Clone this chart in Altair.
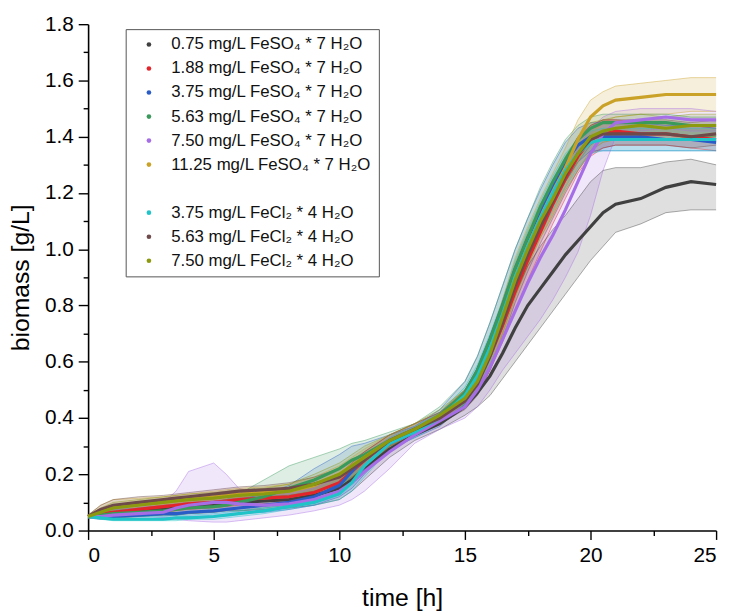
import altair as alt
import pandas as pd

# time points (h)
T = [0, 0.5, 1, 2, 3, 3.5, 4, 5, 5.5, 6, 7, 8, 9, 10, 10.5, 11, 12, 13, 14, 15,
     15.5, 16, 16.5, 17, 17.5, 18, 18.5, 19, 19.5, 20, 20.5, 21, 22, 23, 24, 25]

labels = [
    "0.75 mg/L FeSO₄ * 7 H₂O",
    "1.88 mg/L FeSO₄ * 7 H₂O",
    "3.75 mg/L FeSO₄ * 7 H₂O",
    "5.63 mg/L FeSO₄ * 7 H₂O",
    "7.50 mg/L FeSO₄ * 7 H₂O",
    "11.25 mg/L FeSO₄ * 7 H₂O",
    " ",
    "3.75 mg/L FeCl₂ * 4 H₂O",
    "5.63 mg/L FeCl₂ * 4 H₂O",
    "7.50 mg/L FeCl₂ * 4 H₂O",
]
colors = ["#404040", "#e3242b", "#2a5cc8", "#3a9a5c", "#a66ee6", "#c9a227",
          "transparent", "#20c4c8", "#6e4a4a", "#8c9a10"]

gray_mean = [0.05,0.055,0.06,0.07,0.075,0.08,0.085,0.09,0.095,0.10,0.105,0.11,0.125,0.15,0.18,0.22,0.29,0.34,0.38,0.44,0.49,0.55,0.63,0.72,0.80,0.86,0.92,0.98,1.03,1.08,1.13,1.16,1.18,1.22,1.24,1.23]
gray_lo = [0.045,0.045,0.045,0.05,0.055,0.055,0.06,0.065,0.07,0.07,0.075,0.08,0.09,0.11,0.14,0.18,0.26,0.32,0.36,0.41,0.44,0.48,0.54,0.60,0.66,0.72,0.78,0.84,0.90,0.96,1.01,1.06,1.09,1.13,1.14,1.14]
gray_hi = [0.055,0.07,0.08,0.09,0.10,0.105,0.11,0.115,0.12,0.125,0.13,0.14,0.16,0.19,0.22,0.26,0.32,0.36,0.41,0.48,0.54,0.62,0.72,0.84,0.94,1.01,1.07,1.12,1.18,1.24,1.28,1.29,1.29,1.31,1.32,1.30]

red_mean = [0.05,0.06,0.065,0.075,0.085,0.09,0.095,0.10,0.105,0.11,0.115,0.12,0.135,0.17,0.21,0.25,0.32,0.36,0.40,0.47,0.53,0.62,0.73,0.85,0.96,1.06,1.16,1.25,1.33,1.39,1.41,1.42,1.41,1.41,1.40,1.39]
red_lo = [0.045,0.05,0.05,0.06,0.065,0.07,0.075,0.08,0.085,0.09,0.095,0.10,0.11,0.14,0.18,0.22,0.30,0.34,0.38,0.44,0.49,0.57,0.67,0.78,0.89,0.99,1.09,1.18,1.27,1.33,1.36,1.37,1.37,1.37,1.36,1.35]
red_hi = [0.055,0.07,0.08,0.09,0.10,0.11,0.115,0.12,0.125,0.13,0.135,0.14,0.16,0.20,0.24,0.28,0.34,0.38,0.42,0.50,0.57,0.67,0.79,0.92,1.03,1.13,1.23,1.32,1.39,1.44,1.46,1.46,1.45,1.45,1.44,1.43]

blue_mean = [0.05,0.05,0.05,0.055,0.06,0.06,0.065,0.07,0.075,0.08,0.09,0.10,0.12,0.16,0.21,0.26,0.31,0.35,0.40,0.49,0.57,0.68,0.80,0.93,1.04,1.14,1.23,1.31,1.37,1.40,1.40,1.40,1.40,1.39,1.39,1.38]
blue_lo = [0.045,0.04,0.04,0.04,0.045,0.045,0.05,0.05,0.055,0.06,0.065,0.075,0.09,0.12,0.15,0.20,0.29,0.33,0.37,0.45,0.52,0.62,0.73,0.86,0.97,1.07,1.16,1.24,1.31,1.35,1.35,1.35,1.35,1.35,1.35,1.35]
blue_hi = [0.055,0.06,0.065,0.07,0.075,0.08,0.085,0.09,0.10,0.11,0.13,0.16,0.22,0.27,0.30,0.31,0.34,0.37,0.43,0.53,0.62,0.74,0.87,1.00,1.11,1.21,1.30,1.38,1.43,1.45,1.45,1.45,1.45,1.44,1.44,1.43]

green_mean = [0.05,0.055,0.06,0.065,0.07,0.075,0.08,0.085,0.09,0.10,0.12,0.15,0.18,0.22,0.25,0.27,0.32,0.36,0.41,0.49,0.57,0.68,0.80,0.93,1.04,1.15,1.24,1.32,1.39,1.43,1.45,1.45,1.45,1.45,1.44,1.44]
green_lo = [0.045,0.045,0.045,0.05,0.055,0.055,0.06,0.065,0.07,0.07,0.08,0.09,0.11,0.14,0.18,0.22,0.29,0.34,0.38,0.45,0.52,0.62,0.73,0.86,0.97,1.07,1.16,1.24,1.31,1.37,1.40,1.41,1.41,1.41,1.40,1.40]
green_hi = [0.055,0.065,0.075,0.08,0.085,0.09,0.095,0.10,0.11,0.13,0.18,0.23,0.26,0.29,0.31,0.32,0.35,0.38,0.44,0.53,0.62,0.74,0.87,1.00,1.11,1.22,1.31,1.39,1.44,1.47,1.48,1.48,1.48,1.48,1.47,1.47]

purple_mean = [0.05,0.05,0.055,0.06,0.065,0.08,0.09,0.10,0.10,0.095,0.09,0.095,0.11,0.14,0.17,0.21,0.28,0.34,0.39,0.44,0.50,0.58,0.68,0.78,0.88,0.97,1.05,1.14,1.24,1.34,1.41,1.45,1.46,1.47,1.46,1.46]
purple_lo = [0.045,0.04,0.04,0.04,0.045,0.04,0.035,0.03,0.03,0.035,0.045,0.055,0.07,0.09,0.11,0.14,0.22,0.31,0.36,0.40,0.44,0.50,0.57,0.63,0.69,0.75,0.82,0.90,0.99,1.12,1.28,1.40,1.42,1.43,1.42,1.42]
purple_hi = [0.055,0.065,0.075,0.08,0.10,0.14,0.21,0.24,0.20,0.15,0.13,0.13,0.15,0.19,0.23,0.27,0.33,0.37,0.42,0.48,0.55,0.64,0.75,0.87,0.98,1.08,1.17,1.27,1.36,1.43,1.47,1.49,1.50,1.50,1.50,1.49]

gold_mean = [0.05,0.07,0.085,0.095,0.10,0.105,0.11,0.12,0.125,0.13,0.135,0.14,0.16,0.20,0.23,0.26,0.32,0.36,0.40,0.47,0.54,0.64,0.76,0.90,1.01,1.11,1.20,1.29,1.39,1.47,1.51,1.53,1.54,1.55,1.55,1.55]
gold_lo = [0.045,0.055,0.065,0.075,0.08,0.085,0.09,0.095,0.10,0.105,0.11,0.115,0.13,0.16,0.19,0.22,0.30,0.34,0.38,0.44,0.50,0.59,0.70,0.83,0.94,1.04,1.13,1.22,1.31,1.40,1.45,1.47,1.48,1.48,1.49,1.49]
gold_hi = [0.055,0.09,0.11,0.115,0.12,0.125,0.13,0.14,0.145,0.15,0.155,0.165,0.19,0.23,0.26,0.29,0.34,0.38,0.42,0.50,0.58,0.69,0.82,0.97,1.08,1.18,1.27,1.36,1.46,1.53,1.56,1.58,1.59,1.60,1.61,1.61]

cyan_mean = [0.05,0.045,0.04,0.04,0.04,0.045,0.045,0.05,0.055,0.06,0.07,0.085,0.10,0.13,0.17,0.23,0.31,0.35,0.40,0.48,0.55,0.65,0.77,0.90,1.01,1.11,1.20,1.28,1.34,1.38,1.39,1.39,1.39,1.39,1.39,1.39]
cyan_lo = [0.045,0.04,0.035,0.035,0.035,0.035,0.04,0.04,0.045,0.05,0.06,0.075,0.09,0.11,0.14,0.19,0.29,0.33,0.38,0.45,0.51,0.60,0.72,0.84,0.95,1.05,1.14,1.22,1.29,1.34,1.35,1.35,1.35,1.35,1.35,1.35]
cyan_hi = [0.055,0.05,0.05,0.05,0.05,0.055,0.055,0.06,0.065,0.07,0.08,0.095,0.11,0.15,0.20,0.26,0.33,0.37,0.42,0.51,0.59,0.70,0.82,0.96,1.07,1.17,1.26,1.34,1.39,1.42,1.43,1.43,1.43,1.43,1.43,1.43]

brown_mean = [0.05,0.075,0.09,0.10,0.11,0.115,0.12,0.13,0.135,0.14,0.145,0.15,0.165,0.19,0.22,0.25,0.32,0.36,0.40,0.46,0.52,0.62,0.74,0.87,0.98,1.08,1.17,1.26,1.34,1.39,1.41,1.41,1.41,1.41,1.40,1.41]
brown_lo = [0.045,0.06,0.07,0.08,0.09,0.095,0.10,0.105,0.11,0.115,0.12,0.125,0.14,0.16,0.19,0.22,0.30,0.34,0.38,0.43,0.48,0.57,0.68,0.81,0.92,1.02,1.11,1.20,1.28,1.34,1.36,1.37,1.37,1.37,1.36,1.37]
brown_hi = [0.055,0.09,0.11,0.12,0.125,0.13,0.135,0.145,0.15,0.155,0.16,0.17,0.19,0.22,0.25,0.28,0.34,0.38,0.42,0.49,0.56,0.67,0.80,0.93,1.04,1.14,1.23,1.32,1.40,1.44,1.46,1.46,1.46,1.46,1.45,1.46]

olive_mean = [0.05,0.065,0.08,0.09,0.10,0.105,0.11,0.115,0.12,0.125,0.13,0.14,0.165,0.20,0.23,0.26,0.32,0.36,0.41,0.47,0.53,0.63,0.76,0.89,1.00,1.10,1.18,1.27,1.34,1.40,1.42,1.43,1.44,1.43,1.44,1.44]
olive_lo = [0.045,0.05,0.06,0.07,0.08,0.085,0.09,0.095,0.10,0.10,0.105,0.11,0.13,0.16,0.19,0.22,0.30,0.34,0.39,0.44,0.49,0.58,0.70,0.83,0.94,1.04,1.12,1.21,1.28,1.35,1.38,1.39,1.40,1.39,1.40,1.40]
olive_hi = [0.055,0.08,0.10,0.11,0.12,0.125,0.13,0.135,0.14,0.145,0.15,0.165,0.20,0.24,0.27,0.30,0.34,0.38,0.43,0.50,0.57,0.68,0.82,0.95,1.06,1.16,1.24,1.33,1.40,1.45,1.46,1.47,1.48,1.47,1.48,1.48]

x_ticks = [0, 2.5, 5, 7.5, 10, 12.5, 15, 17.5, 20, 22.5, 25]
y_ticks = [0.0, 0.1, 0.2, 0.3, 0.4, 0.5, 0.6, 0.7, 0.8, 0.9, 1.0, 1.1, 1.2,
           1.3, 1.4, 1.5, 1.6, 1.7, 1.8]

series = [
    (labels[0], gray_mean, gray_lo, gray_hi),
    (labels[1], red_mean, red_lo, red_hi),
    (labels[2], blue_mean, blue_lo, blue_hi),
    (labels[3], green_mean, green_lo, green_hi),
    (labels[4], purple_mean, purple_lo, purple_hi),
    (labels[5], gold_mean, gold_lo, gold_hi),
    (labels[7], cyan_mean, cyan_lo, cyan_hi),
    (labels[8], brown_mean, brown_lo, brown_hi),
    (labels[9], olive_mean, olive_lo, olive_hi),
]

rows = []
for k, (name, m, lo, hi) in enumerate(series):
    for t, a, b, c in zip(T, m, lo, hi):
        rows.append({"series": name, "k": k, "t": t, "mean": a, "lo": b, "hi": c})
df = pd.DataFrame(rows)

FONT = "Liberation Sans"
color_scale = alt.Scale(domain=labels, range=colors)

x_enc = alt.X(
    "t:Q",
    scale=alt.Scale(domain=[0, 25], nice=False, zero=False),
    axis=alt.Axis(
        values=x_ticks,
        labelExpr="datum.value % 5 === 0 ? format(datum.value, 'd') : ''",
        tickSize={"condition": {"test": "datum.value % 5 === 0", "value": 9}, "value": 5},
        title="time [h]",
        grid=False,
        labelPadding=5,
        titlePadding=21,
    ),
)


def y_enc(field):
    return alt.Y(
        f"{field}:Q",
        stack=None,
        scale=alt.Scale(domain=[0, 1.8], nice=False, zero=False),
        axis=alt.Axis(
            values=y_ticks,
            labelExpr="round(datum.value * 10) % 2 === 0 ? format(datum.value, '.1f') : ''",
            tickSize={"condition": {"test": "round(datum.value * 10) % 2 === 0", "value": 10}, "value": 5},
            title="biomass [g/L]",
            grid=False,
            labelPadding=5,
            titlePadding=11,
        ),
    )


base = alt.Chart(df)
col_nolegend = alt.Color("series:N", scale=color_scale, legend=None)

bands = base.mark_area(opacity=0.17).encode(
    x=x_enc, y=y_enc("lo"), y2="hi:Q", color=col_nolegend, detail="series:N"
)
lo_line = base.mark_line(strokeWidth=0.8, opacity=0.55).encode(
    x=x_enc, y=y_enc("lo"), color=col_nolegend, order="t:Q"
)
hi_line = base.mark_line(strokeWidth=0.8, opacity=0.55).encode(
    x=x_enc, y=y_enc("hi"), color=col_nolegend, order="t:Q"
)
mean_line = base.mark_line(strokeWidth=3.2).encode(
    x=x_enc, y=y_enc("mean"), color=col_nolegend, order="t:Q"
)
legend_pts = base.mark_circle(opacity=0, size=1).encode(
    x=x_enc,
    y=y_enc("mean"),
    color=alt.Color(
        "series:N",
        scale=color_scale,
        legend=alt.Legend(
            title=None,
            orient="none",
            legendX=38,
            legendY=5,
            symbolType="circle",
            symbolSize=22,
            symbolOpacity=1,
            symbolStrokeWidth=0,
            symbolOffset=8,
            labelFontSize=17,
            labelFont=FONT,
            labelColor="#111",
            labelOffset=14,
            labelLimit=400,
            labelExpr="datum.label + '\u00a0'",
            rowPadding=6.3,
            padding=7,
            strokeColor="#555",
            fillColor="white",
            cornerRadius=0,
        ),
    ),
)

chart = (
    alt.layer(bands, lo_line, hi_line, mean_line, legend_pts)
    .resolve_legend(color="independent")
    .properties(
        width=635,
        height=512,
        autosize=alt.AutoSizeParams(type="none"),
        padding={"left": 81, "top": 13, "right": 9, "bottom": 79},
        background="white",
    )
    .configure_view(stroke=None)
    .configure_axis(
        labelFont=FONT,
        titleFont=FONT,
        labelFontSize=21,
        titleFontSize=25,
        titleFontWeight="normal",
        labelColor="black",
        titleColor="black",
        domainColor="black",
        domainWidth=1.6,
        tickColor="black",
        tickWidth=1.4,
    )
)

chart.save("out.html", embed_options={"renderer": "svg", "actions": False})
